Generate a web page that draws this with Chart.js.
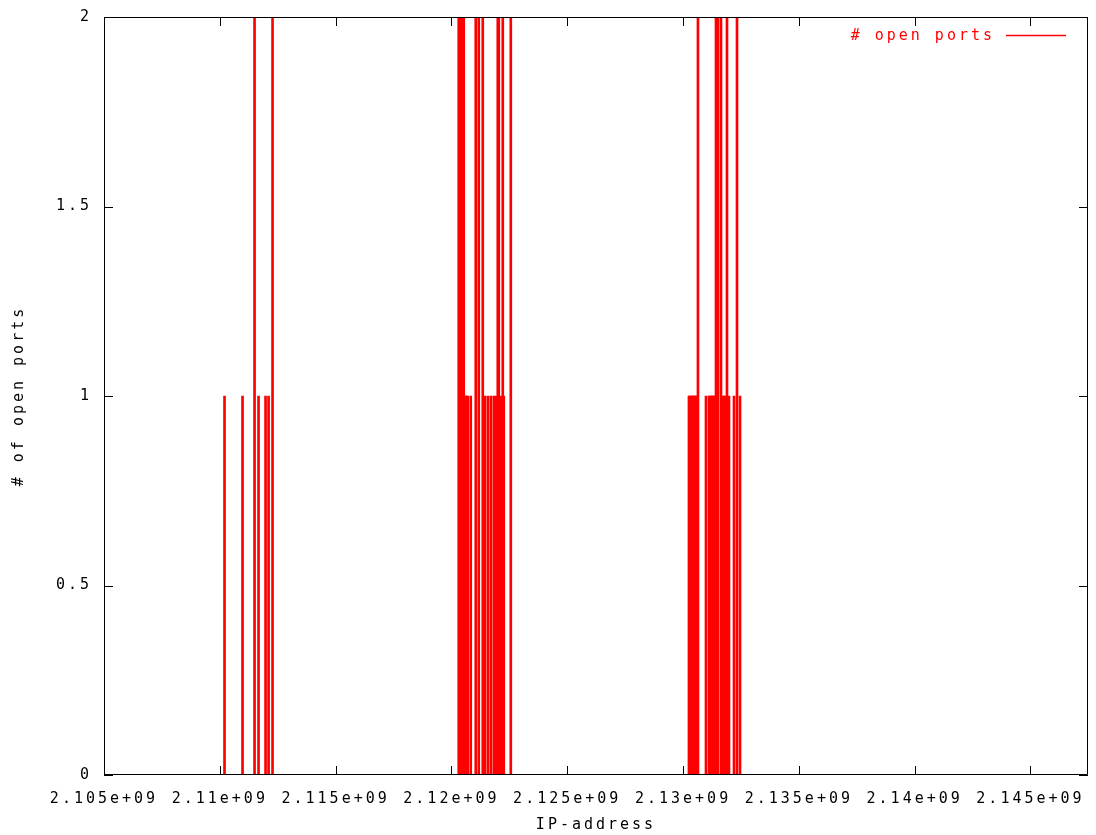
<!DOCTYPE html>
<html>
<head>
<meta charset="utf-8">
<script src="https://cdn.jsdelivr.net/npm/chart.js@4/dist/chart.umd.min.js"></script>
<style>
  html, body { margin: 0; padding: 0; background: #fff; }
  #wrap { width: 1096px; height: 835px; }
</style>
</head>
<body>
<div id="wrap"><canvas id="myChart" width="1096" height="835"></canvas></div>
<script>
// IP address (as integer) and number of open ports found there
var ipAddress = [
    2110203000, 2110981000, 2111500000, 2111672000, 2111975000, 2112105000, 2112277000,
    2120315000, 2120359000, 2120402000, 2120445000, 2120488000, 2120531000, 2120575000,
    2120618000, 2120661000, 2120704000, 2120834000, 2121050000, 2121180000, 2121353000,
    2121439000, 2121569000, 2121698000, 2121828000, 2121914000, 2122001000,
    2122044000, 2122130000, 2122217000, 2122260000, 2122563000,
    2130255000, 2130298000, 2130341000, 2130384000, 2130427000, 2130471000, 2130514000,
    2130557000, 2130600000, 2130644000, 2130990000, 2131119000, 2131162000, 2131205000,
    2131249000, 2131292000, 2131335000, 2131378000, 2131422000, 2131465000, 2131508000,
    2131638000, 2131724000, 2131767000, 2131810000, 2131897000, 2131983000, 2132200000,
    2132329000, 2132459000
];
var openPorts = [
    1, 1, 2, 1, 1, 1, 2,
    2, 2, 2, 2, 2, 2, 1,
    1, 1, 1, 1, 2, 2, 2,
    1, 1, 1, 1, 1, 2,
    2, 1, 2, 1, 2,
    1, 1, 1, 1, 1, 1, 1,
    1, 1, 2, 1, 1, 1, 1,
    1, 1, 1, 1, 2, 1, 2,
    2, 1, 1, 1, 2, 1, 1,
    2, 1
];

var xTickValues = [2.105e9, 2.11e9, 2.115e9, 2.12e9, 2.125e9, 2.13e9, 2.135e9, 2.14e9, 2.145e9];
var xTickLabels = ['2.105e+09', '2.11e+09', '2.115e+09', '2.12e+09', '2.125e+09',
                   '2.13e+09', '2.135e+09', '2.14e+09', '2.145e+09'];
var yTickValues = [0, 0.5, 1, 1.5, 2];
var yTickLabels = ['0', '0.5', '1', '1.5', '2'];

var seriesLabel = '# open ports';
var xMin = 2.105e9, xMax = 2147483648;

var points = [];
for (var i = 0; i < ipAddress.length; i++) {
    points.push({ x: ipAddress[i], y: openPorts[i] });
}

var spacing = '3px';

function noOverflow(scale) {
    scale.paddingTop = 0;
    scale.paddingBottom = 0;
    scale.paddingLeft = 0;
    scale.paddingRight = 0;
}

// gnuplot style: border, ticks pointing inwards on all four sides, key inside
var gnuplotFrame = {
    id: 'gnuplotFrame',
    beforeUpdate: function (chart) { chart.ctx.letterSpacing = spacing; },
    beforeDraw: function (chart) { chart.ctx.letterSpacing = spacing; },
    afterDatasetsDraw: function (chart) {
        var ctx = chart.ctx;
        var a = chart.chartArea;
        var xs = chart.scales.x, ys = chart.scales.y;
        var tl = 9;
        ctx.save();
        ctx.strokeStyle = '#000';
        ctx.lineWidth = 1;
        ctx.beginPath();
        ctx.rect(a.left + 0.5, a.top + 0.5, a.right - a.left - 1, a.bottom - a.top - 1);
        xs.ticks.forEach(function (t) {
            var px = Math.round(xs.getPixelForValue(t.value)) + 0.5;
            ctx.moveTo(px, a.bottom); ctx.lineTo(px, a.bottom - tl);
            ctx.moveTo(px, a.top); ctx.lineTo(px, a.top + tl);
        });
        ys.ticks.forEach(function (t) {
            var py = Math.round(ys.getPixelForValue(t.value)) + 0.5;
            ctx.moveTo(a.left, py); ctx.lineTo(a.left + tl, py);
            ctx.moveTo(a.right, py); ctx.lineTo(a.right - tl, py);
        });
        ctx.stroke();

        // key
        var ds = chart.data.datasets[0];
        ctx.letterSpacing = spacing;
        ctx.font = '15px "DejaVu Sans Mono"';
        ctx.fillStyle = ds.backgroundColor;
        ctx.textAlign = 'right';
        ctx.textBaseline = 'middle';
        ctx.fillText(ds.label, 995, 36);
        ctx.strokeStyle = ds.backgroundColor;
        ctx.lineWidth = 1.5;
        ctx.beginPath();
        ctx.moveTo(1006, 35.5); ctx.lineTo(1066, 35.5);
        ctx.stroke();
        ctx.restore();
    }
};

Chart.defaults.font.family = '"DejaVu Sans Mono", monospace';
Chart.defaults.font.size = 15;
Chart.defaults.color = '#000';

function createChart() {
    var ctx = document.getElementById('myChart').getContext('2d');
    var myChart = new Chart(ctx, {
        type: 'bar',
        data: {
            datasets: [{
                label: seriesLabel,
                data: points,
                backgroundColor: '#ff0000',
                borderWidth: 0,
                barThickness: 2,
                grouped: false
            }]
        },
        options: {
            responsive: false,
            animation: false,
            layout: { padding: { left: 0, right: 8, top: 17, bottom: 0 } },
            plugins: {
                legend: { display: false },
                tooltip: { enabled: false }
            },
            scales: {
                x: {
                    type: 'linear',
                    min: xMin,
                    max: xMax,
                    offset: false,
                    grid: { display: false, drawTicks: false },
                    border: { display: false },
                    afterBuildTicks: function (scale) {
                        scale.ticks = xTickValues.map(function (v) { return { value: v }; });
                    },
                    afterFit: function (scale) { scale.height = 60; noOverflow(scale); },
                    ticks: {
                        padding: 15,
                        maxRotation: 0,
                        autoSkip: false,
                        callback: function (v) {
                            var k = xTickValues.indexOf(v);
                            return k >= 0 ? xTickLabels[k] : '';
                        }
                    },
                    title: {
                        display: true,
                        text: 'IP-address',
                        padding: { top: 0, bottom: 1 }
                    }
                },
                y: {
                    min: 0,
                    max: 2,
                    grid: { display: false, drawTicks: false },
                    border: { display: false },
                    afterBuildTicks: function (scale) {
                        scale.ticks = yTickValues.map(function (v) { return { value: v }; });
                    },
                    afterFit: function (scale) { scale.width = 104; noOverflow(scale); },
                    ticks: {
                        padding: 12,
                        callback: function (v) {
                            var k = yTickValues.indexOf(v);
                            return k >= 0 ? yTickLabels[k] : '';
                        }
                    },
                    title: {
                        display: true,
                        text: '# of open ports',
                        padding: { top: 10, bottom: 0 }
                    }
                }
            }
        },
        plugins: [gnuplotFrame]
    });
}
createChart();
</script>
</body>
</html>
